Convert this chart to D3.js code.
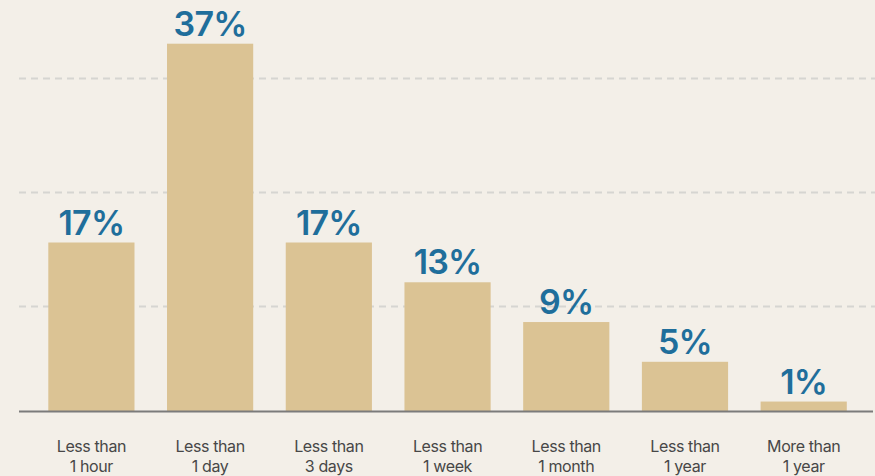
<!DOCTYPE html>
<html>
<head>
<meta charset="utf-8">
<script src="https://cdn.jsdelivr.net/npm/d3@7"></script>
<style>
  html, body { margin: 0; padding: 0; background: #f3efe8; }
  svg { display: block; }
</style>
</head>
<body>
<div id="chart"></div>
<script>
// Time-to-resolution buckets and the share of responses in each
const categories = [
  ["Less than", "1 hour"],
  ["Less than", "1 day"],
  ["Less than", "3 days"],
  ["Less than", "1 week"],
  ["Less than", "1 month"],
  ["Less than", "1 year"],
  ["More than", "1 year"]
];
const shares = [17, 37, 17, 13, 9, 5, 1];
const gridValues = [10.6, 22.1, 33.5];

const width = 875, height = 476;
const margin = { left: 19, right: 2 };
const baseY = 411.5;

const svg = d3.select("#chart").append("svg")
  .attr("width", width)
  .attr("height", height);

svg.append("rect").attr("width", width).attr("height", height).attr("fill", "#f3efe8");

const x = d3.scaleBand()
  .domain(d3.range(categories.length))
  .range([48.3, 846.8])
  .paddingInner(0.274)
  .paddingOuter(0);

const y = d3.scaleLinear()
  .domain([0, d3.max(shares)])
  .range([baseY, 43.7]);

// dashed guide lines
svg.append("g")
  .selectAll("line")
  .data(gridValues)
  .join("line")
  .attr("x1", margin.left)
  .attr("x2", width)
  .attr("y1", d => Math.round(y(d)) + 0.5)
  .attr("y2", d => Math.round(y(d)) + 0.5)
  .attr("stroke", "#d6d5d1")
  .attr("stroke-width", 2)
  .attr("stroke-dasharray", "7 5");

// bars
svg.append("g")
  .selectAll("rect")
  .data(shares)
  .join("rect")
  .attr("x", (d, i) => x(i))
  .attr("y", d => y(d))
  .attr("width", x.bandwidth())
  .attr("height", d => baseY - y(d))
  .attr("fill", "#dbc394");

// baseline
svg.append("line")
  .attr("x1", margin.left)
  .attr("x2", width - margin.right)
  .attr("y1", baseY)
  .attr("y2", baseY)
  .attr("stroke", "#7b7b7b")
  .attr("stroke-width", 2);

// value labels
svg.append("g")
  .selectAll("text")
  .data(shares)
  .join("text")
  .attr("x", (d, i) => x(i) + x.bandwidth() / 2)
  .attr("y", d => y(d) - 8)
  .attr("text-anchor", "middle")
  .attr("font-family", "Inter, 'Liberation Sans', sans-serif")
  .attr("font-weight", 600)
  .attr("font-size", 34)
  .attr("letter-spacing", -0.8)
  .attr("fill", "#1f6e9b")
  .text(d => d + "%");

// category labels, two lines each
const catLabels = svg.append("g")
  .selectAll("text")
  .data(categories)
  .join("text")
  .attr("x", (d, i) => x(i) + x.bandwidth() / 2)
  .attr("y", 451.5)
  .attr("text-anchor", "middle")
  .attr("font-family", "Inter, 'Liberation Sans', sans-serif")
  .attr("font-size", 16)
  .attr("letter-spacing", -0.4)
  .attr("fill", "#474747");

catLabels.selectAll("tspan")
  .data(d => d)
  .join("tspan")
  .attr("x", function () { return d3.select(this.parentNode).attr("x"); })
  .attr("dy", (d, j) => j === 0 ? 0 : 20)
  .text(d => d);
</script>
</body>
</html>
